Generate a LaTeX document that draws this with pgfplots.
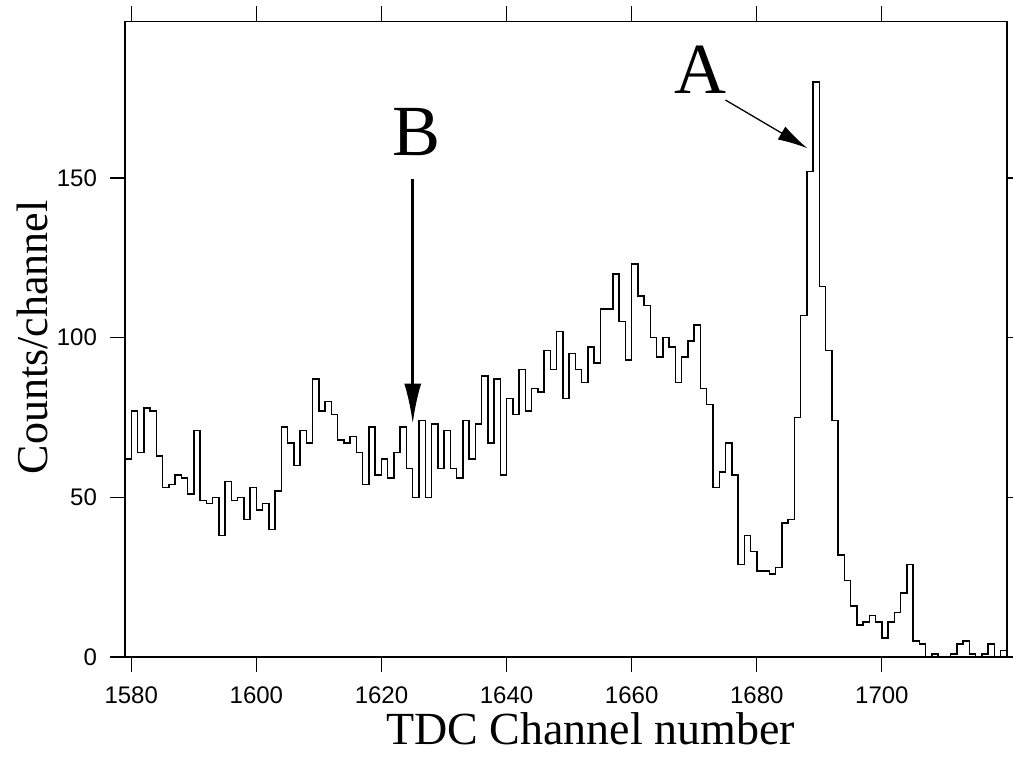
\documentclass[border=0pt]{standalone}
\usepackage{fontspec}
\setmainfont{Liberation Serif}
\setsansfont{Liberation Sans}
\usepackage{pgfplots}
\pgfplotsset{compat=1.18}
\usetikzlibrary{arrows.meta,calc}

\pgfplotstableread{
ch cnt
1579 62
1580 77
1581 64
1582 78
1583 77
1584 63
1585 53
1586 54
1587 57
1588 56
1589 51
1590 71
1591 49
1592 48
1593 50
1594 38
1595 55
1596 49
1597 50
1598 43
1599 53
1600 46
1601 48
1602 40
1603 52
1604 72
1605 67
1606 60
1607 71
1608 67
1609 87
1610 77
1611 80
1612 76
1613 68
1614 67
1615 69
1616 64
1617 54
1618 72
1619 57
1620 62
1621 56
1622 64
1623 72
1624 59
1625 50
1626 74
1627 50
1628 73
1629 59
1630 71
1631 59
1632 56
1633 74
1634 62
1635 73
1636 88
1637 67
1638 87
1639 57
1640 81
1641 76
1642 90
1643 77
1644 84
1645 83
1646 96
1647 90
1648 102
1649 81
1650 95
1651 90
1652 86
1653 97
1654 92
1655 109
1656 109
1657 120
1658 105
1659 93
1660 123
1661 113
1662 110
1663 100
1664 94
1665 100
1666 97
1667 86
1668 94
1669 99
1670 104
1671 84
1672 79
1673 53
1674 58
1675 67
1676 57
1677 29
1678 38
1679 33
1680 27
1681 27
1682 26
1683 28
1684 42
1685 43
1686 75
1687 107
1688 152
1689 180
1690 116
1691 96
1692 74
1693 32
1694 24
1695 16
1696 10
1697 11
1698 13
1699 11
1700 6
1701 11
1702 14
1703 20
1704 29
1705 5
1706 4
1707 0
1708 1
1709 0
1710 0
1711 1
1712 4
1713 5
1714 1
1715 0
1716 1
1717 4
1718 0
1719 2
1720 2
}\tdc

\begin{document}
\begin{tikzpicture}
\begin{axis}[
    scale only axis,
    width=441pt, height=317.75pt,
    xmin=1579, xmax=1720,
    ymin=0, ymax=199,
    xtick={1580,1600,...,1700},
    ytick={0,50,100,150},
    tick pos=both,
    tick align=outside,
    xticklabel pos=lower,
    yticklabel pos=left,
    major tick length=7.5pt,
    every tick/.style={black, line width=0.6pt},
    axis line style={line width=0.9pt},
    /pgf/number format/assume math mode=true,
    /pgf/number format/1000 sep={},
    ticklabel style={font=\sffamily\fontsize{12}{12}\selectfont},
    xticklabel style={yshift=-4pt},
    yticklabel style={xshift=-3pt},
    clip=false,
]
\addplot[const plot, black, line width=0.75pt] table[x=ch, y=cnt] {\tdc};

\coordinate (bl) at (rel axis cs:0,0);
\coordinate (tr) at (rel axis cs:1,1);

\node[anchor=base, font=\fontsize{23}{23}\selectfont] at ([yshift=-44pt]axis description cs:0.528,0) {TDC Channel number};
\node[rotate=90, anchor=base, font=\fontsize{22}{22}\selectfont] at ([xshift=-38.5pt]axis description cs:0,0.503) {Counts/channel};

\node[anchor=base, font=\fontsize{36}{36}\selectfont] at (axis cs:1671,176.3) {A};
\node[anchor=base, font=\fontsize{36}{36}\selectfont] at (axis cs:1625.6,156.9) {B};
\draw[line width=0.65pt, -{Latex[length=15pt,width=7.5pt]}] (axis cs:1675,174.4) -- (axis cs:1688.1,159.3);
\draw[line width=1.3pt, -{Latex[length=20pt,width=8.5pt]}] (axis cs:1625,149.6) -- (axis cs:1625,73.1);
\end{axis}
\pgfresetboundingbox
\useasboundingbox ($(bl)+(-62.5pt,-51pt)$) rectangle ($(tr)+(3pt,10.75pt)$);
\end{tikzpicture}
\end{document}
